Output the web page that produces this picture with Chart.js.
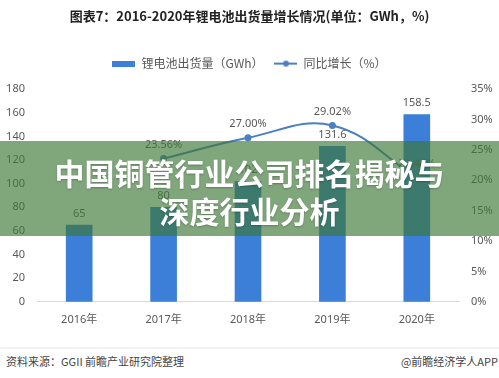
<!DOCTYPE html>
<html>
<head>
<meta charset="utf-8">
<script src="https://cdn.jsdelivr.net/npm/chart.js@4/dist/chart.umd.min.js"></script>
<style>
  html, body { margin: 0; padding: 0; background: #fff; }
  #wrap { position: relative; width: 499px; height: 378px; overflow: hidden; font-family: 'Noto Sans CJK SC', sans-serif; }
  #chartBox { position: absolute; left: 0; top: 0; width: 499px; height: 345px; }
  #banner { position: absolute; left: 0; top: 141px; width: 499px; height: 95px; background: rgba(62,120,54,0.66);
            color: #fff; font-weight: bold; font-size: 30px; line-height: 38px; text-align: center; box-sizing: border-box; padding-top: 12px;
            text-shadow: 0 1px 2px rgba(0,0,0,0.25); }
  #sep { position: absolute; left: 0; top: 347px; width: 499px; height: 2px; background: #f0f2f5; }
  #src { position: absolute; left: 6px; top: 353px; font-size: 11px; color: #444; }
  #app { position: absolute; right: 1px; top: 353px; font-size: 11px; color: #444; }
</style>
</head>
<body>
<div id="wrap">
  <div id="chartBox"><canvas id="c"></canvas></div>
  <div id="banner">中国铜管行业公司排名揭秘与<br>深度行业分析</div>
  <div id="sep"></div>
  <div id="src">资料来源：GGII 前瞻产业研究院整理</div>
  <div id="app">@前瞻经济学人APP</div>
</div>
<script>
// data
var years = ['2016年', '2017年', '2018年', '2019年', '2020年'];
var shipments = [65, 80, 102, 131.6, 158.5];
var growth = [null, 23.56, 27.00, 29.02, 20.44];
var leftMax = 180, leftStep = 20;
var rightMax = 35, rightStep = 5;

var barColor = '#3b7fd9';
var lineColor = '#4a7fc0';
var textColor = '#595959';

Chart.defaults.font.family = "'Noto Sans', 'Noto Sans CJK SC', sans-serif";

// legend icons
var barIcon = document.createElement('canvas');
barIcon.width = 23; barIcon.height = 6;
var bctx = barIcon.getContext('2d');
bctx.fillStyle = barColor;
bctx.fillRect(0, 0, 23, 6);

var lineIcon = document.createElement('canvas');
lineIcon.width = 23; lineIcon.height = 8;
var lctx = lineIcon.getContext('2d');
lctx.strokeStyle = lineColor;
lctx.lineWidth = 2;
lctx.beginPath(); lctx.moveTo(0, 4); lctx.lineTo(23, 4); lctx.stroke();
lctx.fillStyle = lineColor;
lctx.beginPath(); lctx.arc(11.5, 4, 3, 0, Math.PI * 2); lctx.fill();

// value labels above bars and points
var valueLabels = {
    id: 'valueLabels',
    afterDatasetsDraw: function(chart) {
        var ctx = chart.ctx;
        ctx.save();
        ctx.font = "11px 'Noto Sans', sans-serif";
        ctx.fillStyle = textColor;
        ctx.textAlign = 'center';
        ctx.textBaseline = 'bottom';
        chart.data.datasets.forEach(function(ds, i) {
            var meta = chart.getDatasetMeta(i);
            meta.data.forEach(function(el, j) {
                var v = ds.data[j];
                if (v === null || v === undefined) return;
                if (ds.type === 'line') {
                    ctx.fillText(v.toFixed(2) + '%', el.x, el.y - 8);
                } else {
                    ctx.fillText(String(v), el.x, el.y - 6);
                }
            });
        });
        ctx.restore();
    }
};

// extra gap under the legend
var legendGap = {
    id: 'legendGap',
    beforeInit: function(chart) {
        var fit = chart.legend.fit;
        chart.legend.fit = function() {
            fit.bind(chart.legend)();
            this.height += 9.5;
        };
    }
};

new Chart(document.getElementById('c').getContext('2d'), {
    data: {
        labels: years,
        datasets: [
            {
                type: 'line',
                label: '同比增长（%）',
                data: growth,
                yAxisID: 'y1',
                borderColor: lineColor,
                backgroundColor: lineColor,
                borderWidth: 2,
                pointRadius: 3.5,
                pointBackgroundColor: lineColor,
                pointBorderWidth: 0,
                tension: 0.4,
                order: 1
            },
            {
                type: 'bar',
                label: '锂电池出货量（GWh）',
                data: shipments,
                yAxisID: 'y',
                backgroundColor: barColor,
                barThickness: 26,
                order: 2
            }
        ]
    },
    options: {
        responsive: true,
        maintainAspectRatio: false,
        animation: false,
        layout: { padding: { left: 0, right: 0, top: 0, bottom: 8 } },
        plugins: {
            title: {
                display: true,
                text: '图表7：2016-2020年锂电池出货量增长情况(单位：GWh，%)',
                color: '#222',
                font: { size: 13, weight: 'bold', family: "'Noto Sans CJK SC', sans-serif" },
                padding: { top: 8, bottom: 23 }
            },
            legend: {
                position: 'top',
                reverse: true,
                labels: {
                    color: textColor,
                    font: { size: 12, family: "'Noto Sans CJK SC', sans-serif" },
                    usePointStyle: true,
                    pointStyleWidth: 23,
                    padding: 11,
                    generateLabels: function(chart) {
                        var items = Chart.defaults.plugins.legend.labels.generateLabels(chart);
                        items.forEach(function(it) {
                            it.pointStyle = it.datasetIndex === 0 ? lineIcon : barIcon;
                        });
                        return items;
                    }
                }
            },
            tooltip: { enabled: false }
        },
        scales: {
            x: {
                grid: { display: false, drawTicks: false },
                border: { display: true, color: '#d9d9d9', width: 1 },
                ticks: { color: textColor, font: { size: 11 }, padding: 11 }
            },
            y: {
                position: 'left',
                min: 0, max: leftMax,
                grid: { display: false, drawTicks: false },
                border: { display: false },
                ticks: { stepSize: leftStep, color: textColor, font: { size: 11 }, padding: 12 },
                afterFit: function(s) { s.width = 37; }
            },
            y1: {
                position: 'right',
                min: 0, max: rightMax,
                grid: { display: false, drawTicks: false },
                border: { display: false },
                ticks: { stepSize: rightStep, color: textColor, font: { size: 11 }, padding: 12,
                         callback: function(v) { return v + '%'; } },
                afterFit: function(s) { s.width = 40; }
            }
        }
    },
    plugins: [valueLabels, legendGap]
});
</script>
</body>
</html>
